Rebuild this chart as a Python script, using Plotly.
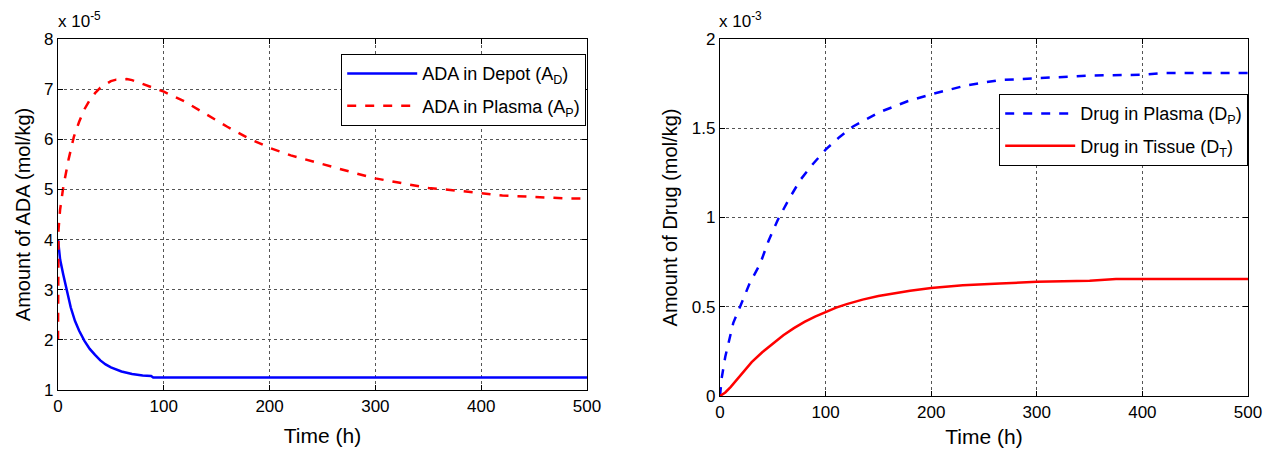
import plotly.graph_objects as go

# ---------------- data ----------------
# Left panel: ADA (units of 1e-5 mol/kg)
t_depot = [0, 2, 5, 8, 12, 16, 20, 25, 30, 35, 40, 45, 50, 60, 70, 80, 88, 90, 150, 250, 350, 450, 500]
ada_depot = [4.0, 3.6, 3.3, 3.0, 2.65, 2.38, 2.18, 1.98, 1.82, 1.7, 1.59, 1.51, 1.45, 1.37, 1.32, 1.29, 1.28, 1.25, 1.25, 1.25, 1.25, 1.25, 1.25]

t_plasma = [0, 0.5, 2, 5, 10, 15, 20, 25, 30, 35, 40, 45, 50, 55, 60, 65, 70, 80, 90, 100, 120, 140, 160, 180, 200,
            220, 250, 280, 300, 320, 350, 380, 400, 420, 450, 480, 500]
ada_plasma = [2.0, 4.2, 4.6, 5.05, 5.6, 6.05, 6.35, 6.6, 6.78, 6.92, 7.03, 7.1, 7.16, 7.19, 7.2, 7.2, 7.18, 7.1, 7.02, 6.95, 6.75, 6.5,
              6.25, 6.02, 5.83, 5.68, 5.5, 5.33, 5.22, 5.15, 5.03, 4.97, 4.92, 4.88, 4.85, 4.82, 4.82]

# Right panel: Drug (units of 1e-3 mol/kg)
t_dp = [0, 1.6, 5, 12.6, 19, 28, 38, 46, 55, 65, 76, 88, 100, 113, 126, 151, 177, 200, 233, 265, 300, 350, 400, 420, 450, 500]
drug_plasma = [0, 0.1, 0.22, 0.41, 0.5, 0.63, 0.74, 0.87, 0.99, 1.1, 1.21, 1.3, 1.38, 1.45, 1.51, 1.59, 1.65, 1.69, 1.74, 1.77,
               1.78, 1.795, 1.80, 1.81, 1.81, 1.81]

t_dt = [0, 5, 10, 20, 30, 40, 50, 60, 70, 80, 90, 100, 110, 120, 135, 150, 165, 180, 200, 230, 265, 300, 350, 375, 400, 450, 500]
drug_tissue = [0, 0.02, 0.05, 0.12, 0.19, 0.245, 0.295, 0.34, 0.38, 0.415, 0.445, 0.47, 0.495, 0.515, 0.54, 0.56, 0.577, 0.59,
               0.605, 0.62, 0.63, 0.64, 0.645, 0.655, 0.655, 0.655, 0.655]

x_ticks = [0, 100, 200, 300, 400, 500]
left_yticks = [1, 2, 3, 4, 5, 6, 7, 8]
right_yticks = [0, 0.5, 1, 1.5, 2]
right_yticklabels = ["0", "0.5", "1", "1.5", "2"]

# ---------------- figure ----------------
W, H = 1272, 452
FONT = "Liberation Sans, Arial, sans-serif"

fig = go.Figure()

fig.add_trace(go.Scatter(x=t_depot, y=ada_depot, mode="lines", name="ADA in Depot (A<sub>D</sub>)",
                         line=dict(color="#0000ff", width=2.5), xaxis="x", yaxis="y",
                         legend="legend", legendgroup="a"))
fig.add_trace(go.Scatter(x=t_plasma, y=ada_plasma, mode="lines", name="ADA in Plasma (A<sub>P</sub>)",
                         line=dict(color="#ff0000", width=2.5, dash="dash"), xaxis="x", yaxis="y",
                         legend="legend", legendgroup="b"))
fig.add_trace(go.Scatter(x=t_dp, y=drug_plasma, mode="lines", name="Drug in Plasma (D<sub>P</sub>)",
                         line=dict(color="#0000ff", width=2.5, dash="dash"), xaxis="x2", yaxis="y2",
                         legend="legend2", legendgroup="c"))
fig.add_trace(go.Scatter(x=t_dt, y=drug_tissue, mode="lines", name="Drug in Tissue (D<sub>T</sub>)",
                         line=dict(color="#ff0000", width=2.5), xaxis="x2", yaxis="y2",
                         legend="legend2", legendgroup="d"))

def px(xp):
    return xp / W

def py(yp):
    return 1 - yp / H

axis_common = dict(showline=True, linecolor="black", linewidth=1.2, mirror="ticks",
                   ticks="inside", ticklen=5, tickcolor="black", automargin=False,
                   showgrid=True, gridcolor="#555555", griddash="dot", gridwidth=1,
                   zeroline=False, tickfont=dict(family=FONT, size=17, color="black"))

fig.update_layout(
    width=W, height=H,
    margin=dict(l=0, r=0, t=0, b=0),
    paper_bgcolor="white", plot_bgcolor="white",
    font=dict(family=FONT, color="black"),
    xaxis=dict(domain=[px(58), px(587)], range=[0, 500], tickvals=x_ticks, anchor="y",
               title=dict(text="Time (h)", font=dict(size=21), standoff=13), **axis_common),
    yaxis=dict(domain=[py(390), py(39)], range=[1, 8], tickvals=left_yticks, anchor="x",
               title=dict(text="Amount of ADA (mol/kg)", font=dict(size=20), standoff=8), **axis_common),
    xaxis2=dict(domain=[px(720), px(1248)], range=[0, 500], tickvals=x_ticks, anchor="y2",
                title=dict(text="Time (h)", font=dict(size=21), standoff=8), **axis_common),
    yaxis2=dict(domain=[py(396), py(39)], range=[0, 2], tickvals=right_yticks, ticktext=right_yticklabels,
                anchor="x2",
                title=dict(text="Amount of Drug (mol/kg)", font=dict(size=20), standoff=8), **axis_common),
    legend=dict(x=px(586), y=py(54), xanchor="right", yanchor="top", bgcolor="white",
                bordercolor="black", borderwidth=1.2, font=dict(family=FONT, size=18),
                traceorder="grouped", tracegroupgap=6, itemwidth=70),
    legend2=dict(x=px(1248), y=py(94), xanchor="right", yanchor="top", bgcolor="white",
                 bordercolor="black", borderwidth=1.2, font=dict(family=FONT, size=18),
                 traceorder="grouped", tracegroupgap=6, itemwidth=70),
    showlegend=True,
)

fig.add_annotation(x=px(56), y=py(20), xref="paper", yref="paper", xanchor="left", yanchor="middle",
                   text="x 10<sup>-5</sup>", showarrow=False, font=dict(family=FONT, size=17, color="black"))
fig.add_annotation(x=px(717), y=py(20), xref="paper", yref="paper", xanchor="left", yanchor="middle",
                   text="x 10<sup>-3</sup>", showarrow=False, font=dict(family=FONT, size=17, color="black"))

fig.write_html("out.html", config={"displayModeBar": False},
               post_script="document.body.style.margin='0px';")
